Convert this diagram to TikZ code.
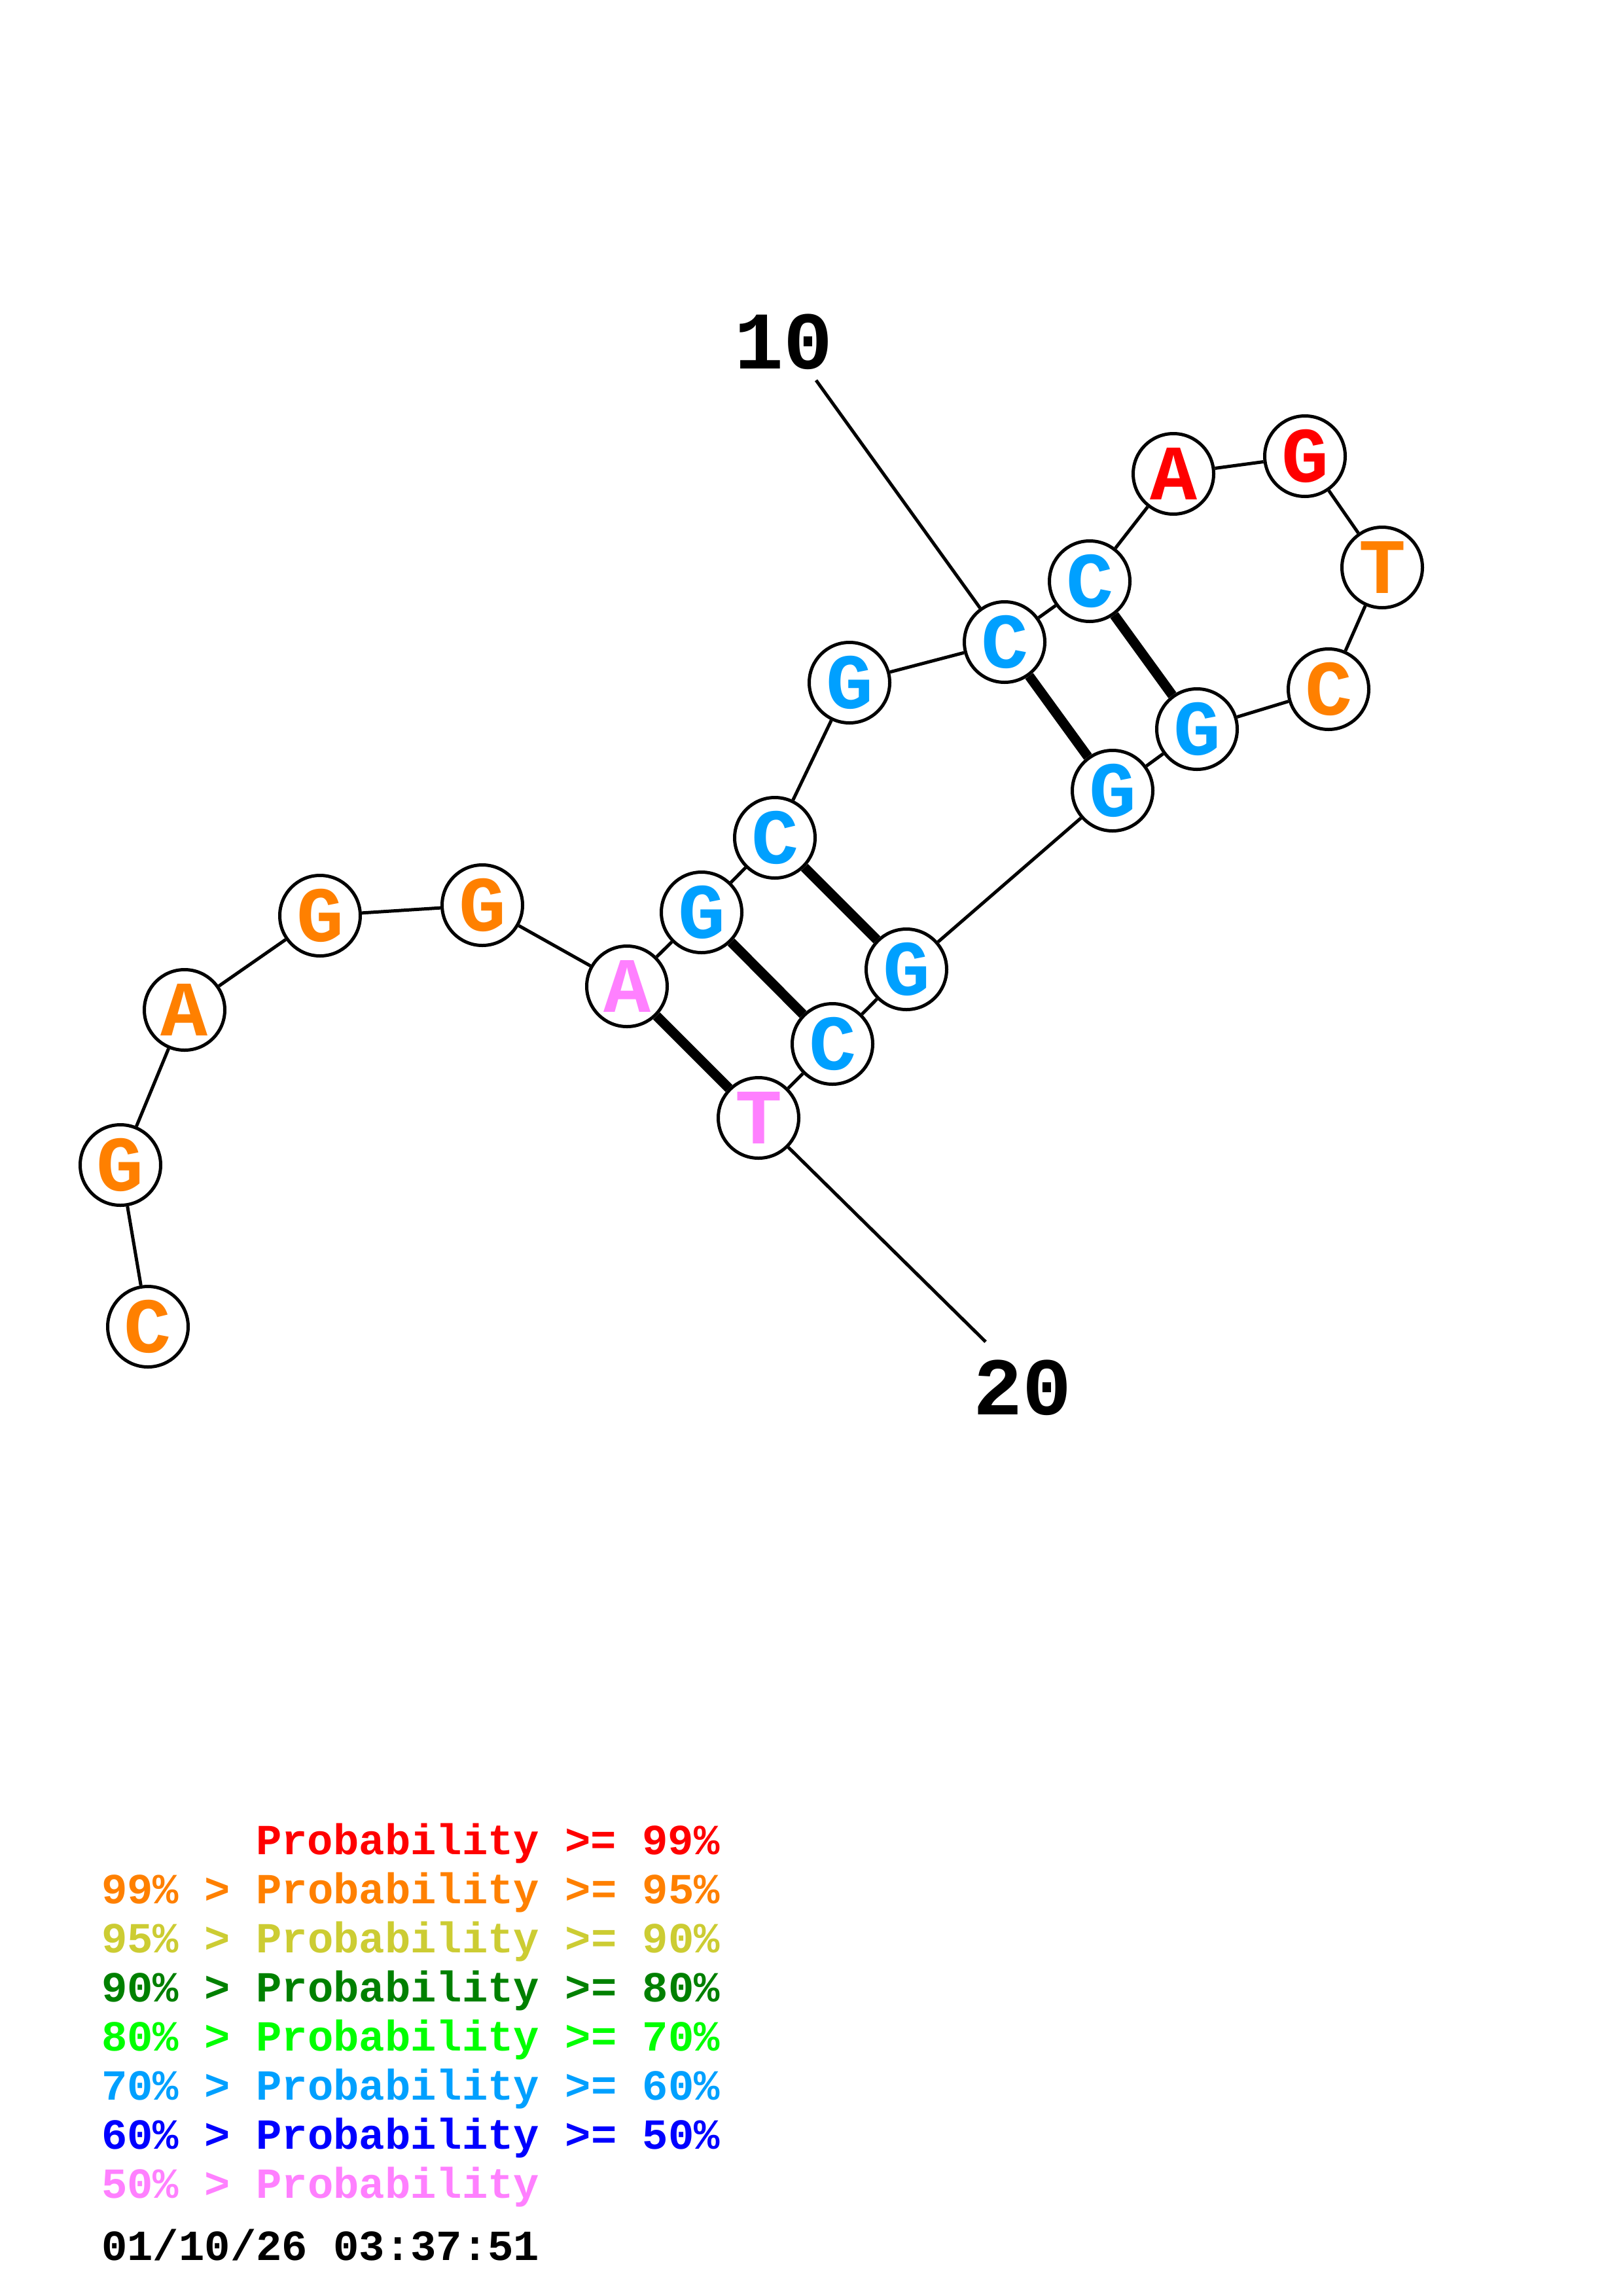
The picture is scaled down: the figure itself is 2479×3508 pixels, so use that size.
\documentclass[tikz,border=0pt]{standalone}
\usepackage{fontspec}
\newfontfamily\monof{Liberation Mono}
\definecolor{pr99}{RGB}{255,0,0}
\definecolor{pr95}{RGB}{255,128,0}
\definecolor{pr90}{RGB}{204,204,51}
\definecolor{pr80}{RGB}{0,128,0}
\definecolor{pr70}{RGB}{0,255,0}
\definecolor{pr60}{RGB}{0,160,255}
\definecolor{pr50}{RGB}{0,0,255}
\definecolor{prlo}{RGB}{255,128,255}
\tikzset{
  base/.style={circle, draw=black, line width=5pt, fill=white, minimum size=123pt, inner sep=0pt,
    font=\monof\bfseries\fontsize{120}{120}\selectfont},
  bond/.style={line width=5pt},
  pairbond/.style={line width=15pt},
  numlabel/.style={font=\monof\bfseries\fontsize{125}{125}\selectfont, inner sep=0pt},
  legend/.style={anchor=base west, inner sep=0pt, font=\monof\bfseries\fontsize{65.6}{65.6}\selectfont}
}
\begin{document}
\begin{tikzpicture}[x=1pt,y=-1pt]
\useasboundingbox (0,0) rectangle (2479,3508);
% nodes
\node[base, text=pr95] (n1) at (226,2027) {C};
\node[base, text=pr95] (n2) at (184,1780) {G};
\node[base, text=pr95] (n3) at (282,1543) {A};
\node[base, text=pr95] (n4) at (489,1399) {G};
\node[base, text=pr95] (n5) at (737,1383) {G};
\node[base, text=prlo] (n6) at (958,1507) {A};
\node[base, text=pr60] (n7) at (1072,1394) {G};
\node[base, text=pr60] (n8) at (1184,1280) {C};
\node[base, text=pr60] (n9) at (1298,1043) {G};
\node[base, text=pr60] (n10) at (1535,981) {C};
\node[base, text=pr60] (n11) at (1665,888) {C};
\node[base, text=pr99] (n12) at (1793,724) {A};
\node[base, text=pr99] (n13) at (1994,697) {G};
\node[base, text=pr95] (n14) at (2112,867) {T};
\node[base, text=pr95] (n15) at (2030,1053) {C};
\node[base, text=pr60] (n16) at (1829,1114) {G};
\node[base, text=pr60] (n17) at (1700,1208) {G};
\node[base, text=pr60] (n18) at (1385,1481) {G};
\node[base, text=pr60] (n19) at (1272,1595) {C};
\node[base, text=prlo] (n20) at (1159,1708) {T};
% backbone
\foreach \a/\b in {1/2,2/3,3/4,4/5,5/6,6/7,7/8,8/9,9/10,10/11,11/12,12/13,13/14,14/15,15/16,16/17,17/18,18/19,19/20}
  \draw[bond] (n\a) -- (n\b);
% pairs
\foreach \a/\b in {6/20,7/19,8/18,10/17,11/16}
  \draw[pairbond] (n\a) -- (n\b);
% numbering
\node[numlabel] (l10) at (1197,522) {10};
\coordinate (l10s) at (1247,581);
\draw[bond] (l10s) -- (n10);
\node[numlabel] (l20) at (1562,2120) {20};
\coordinate (l20e) at (1506,2050);
\draw[bond] (n20) -- (l20e);
% legend
\node[legend, text=pr99] (g1) at (391,2833) {Probability >= 99\%};
\node[legend, text=pr95] (g2) at (155,2908) {99\% > Probability >= 95\%};
\node[legend, text=pr90] (g3) at (155,2983) {95\% > Probability >= 90\%};
\node[legend, text=pr80] (g4) at (155,3058) {90\% > Probability >= 80\%};
\node[legend, text=pr70] (g5) at (155,3133) {80\% > Probability >= 70\%};
\node[legend, text=pr60] (g6) at (155,3208) {70\% > Probability >= 60\%};
\node[legend, text=pr50] (g7) at (155,3283) {60\% > Probability >= 50\%};
\node[legend, text=prlo] (g8) at (155,3358) {50\% > Probability};
\node[legend, text=black] (g9) at (155,3453) {01/10/26 03:37:51};
\end{tikzpicture}
\end{document}
